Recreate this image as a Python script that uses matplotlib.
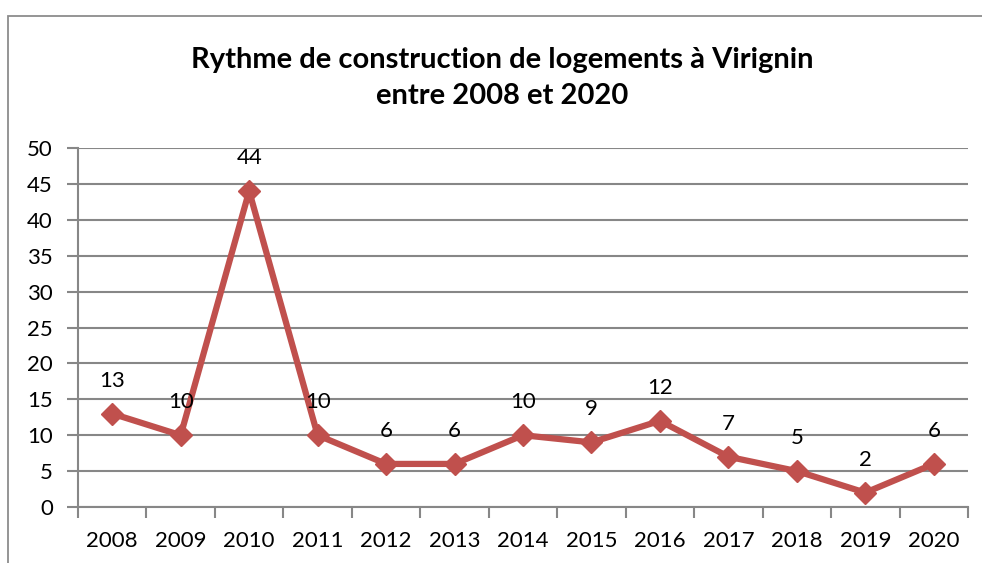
import matplotlib
matplotlib.use("Agg")
import matplotlib.pyplot as plt
from matplotlib.patches import Rectangle
import numpy as np

years = ["2008", "2009", "2010", "2011", "2012", "2013", "2014",
         "2015", "2016", "2017", "2018", "2019", "2020"]
logements = [13, 10, 44, 10, 6, 6, 10, 9, 12, 7, 5, 2, 6]
yticks = [0, 5, 10, 15, 20, 25, 30, 35, 40, 45, 50]
title = "Rythme de construction de logements à Virignin\nentre 2008 et 2020"

plt.rcParams['font.family'] = ['Lato', 'DejaVu Sans']
W, H = 982, 563
fig = plt.figure(figsize=(W / 100, H / 100), dpi=100)
fig.patch.set_facecolor('white')

# outer chart border
fig.patches.append(Rectangle((8 / W, -0.1), 1.2, 1 - 16 / H + 0.1,
                             transform=fig.transFigure, fill=False,
                             edgecolor='#8c8c8c', linewidth=1.3))

ax = fig.add_axes([78 / W, 1 - 507 / H, (968 - 78) / W, (507 - 148) / H])
x = np.arange(len(years))
grid_c = '#878787'
ax.set_ylim(0, 50)
ax.set_xlim(-0.5, len(years) - 0.5)
ax.set_yticks(yticks)
ax.yaxis.grid(True, color=grid_c, linewidth=1.5)
ax.set_axisbelow(True)
for s in ['top', 'right']:
    ax.spines[s].set_visible(False)
for s in ['left', 'bottom']:
    ax.spines[s].set_color(grid_c)
    ax.spines[s].set_linewidth(1.5)

ax.set_xticks(np.arange(-0.5, len(years), 1.0))
ax.set_xticklabels([])
ax.set_xticks(x, minor=True)
ax.set_xticklabels(years, minor=True)
ax.tick_params(axis='x', which='major', length=8, width=1.5, color=grid_c)
ax.tick_params(axis='x', which='minor', length=0, pad=17, labelsize=16)
ax.tick_params(axis='y', length=8, width=1.5, color=grid_c, pad=10, labelsize=16)

ax.plot(x, logements, color='#C0504D', linewidth=4.5, marker='D',
        markersize=11, zorder=3, clip_on=False)
for xi, v in zip(x, logements):
    ax.annotate(str(v), (xi, v), xytext=(0, 27), textcoords='offset pixels',
                ha='center', va='baseline', fontsize=16)

fig.text(502 / W, 1 - 78 / H, title, ha='center', va='center',
         fontsize=21, fontweight='bold', linespacing=1.5)

fig.savefig('out.png', dpi=100, facecolor='white')
